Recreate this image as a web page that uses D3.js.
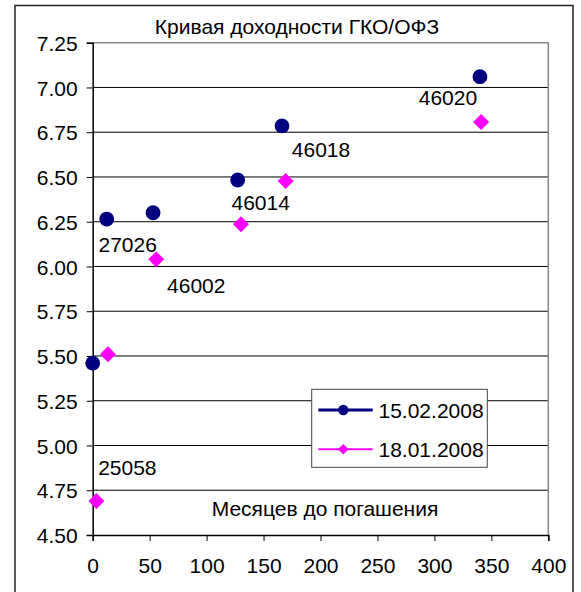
<!DOCTYPE html>
<html><head><meta charset="utf-8">
<script src="https://cdn.jsdelivr.net/npm/d3@7"></script>
<style>body{margin:0;background:#fff}svg{display:block}text{font-family:Arial,"Liberation Sans",sans-serif;fill:#000}</style>
</head><body>
<script>
// ---- data ----
const title = "Кривая доходности ГКО/ОФЗ";
const xTitle = "Месяцев до погашения";
const seriesNames = ["15.02.2008", "18.01.2008"];
const months1 = [0, 12.3, 53, 127.3, 166.2, 340];
const yields1 = [5.46, 6.265, 6.30, 6.483, 6.785, 7.06];
const months2 = [3.2, 13.4, 55.8, 130.2, 169.4, 341];
const yields2 = [4.69, 5.51, 6.04, 6.236, 6.478, 6.807];
const bondLabels = ["27026", "46002", "46014", "46018", "46020", "25058"];
const labelSeries = [0, 1, 0, 0, 0, 1];
const labelIndex = [1, 2, 3, 4, 5, 0];
const yTicks = [4.50, 4.75, 5.00, 5.25, 5.50, 5.75, 6.00, 6.25, 6.50, 6.75, 7.00, 7.25];
const xTicks = [0, 50, 100, 150, 200, 250, 300, 350, 400];

// ---- drawing ----
const W = 581, H = 592;
const svg = d3.select("body").append("svg").attr("width", W).attr("height", H);
const colors = ["#000080", "#FF00FF"];
const L = 92.7, R = 548.3, T = 42.7, B = 535;
const x = d3.scaleLinear().domain([0, 400]).range([L, R]);
const y = d3.scaleLinear().domain([4.5, 7.25]).range([B, T]);
const FS = 21;

// outer border
svg.append("rect").attr("x", 15).attr("y", 5.5).attr("width", 558).attr("height", 600)
  .attr("fill", "none").attr("stroke", "#222").attr("stroke-width", 1.5);

// title
svg.append("text").attr("x", 297).attr("y", 34).attr("text-anchor", "middle")
  .attr("font-size", FS).text(title);

// gridlines
svg.append("g").selectAll("line").data(yTicks.filter(v => v > 4.5 && v < 7.25)).join("line")
  .attr("x1", L).attr("x2", R).attr("y1", d => y(d)).attr("y2", d => y(d))
  .attr("stroke", "#000").attr("stroke-width", 1);

// plot border top/right gray
svg.append("path").attr("d", `M${L},${T}H${R}V${B}`).attr("fill", "none")
  .attr("stroke", "#888").attr("stroke-width", 1.5);

// y axis
const yAxis = svg.append("g").attr("transform", `translate(${L},0)`)
  .call(d3.axisLeft(y).tickValues(yTicks).tickFormat(d3.format(".2f")).tickSize(6).tickPadding(9));
yAxis.select(".domain").attr("stroke", "#000").attr("stroke-width", 1.5);
yAxis.selectAll("text").attr("font-size", FS).attr("font-family", "Arial, 'Liberation Sans', sans-serif").attr("dy", "0.36em");

// x axis
const xAxis = svg.append("g").attr("transform", `translate(0,${B})`)
  .call(d3.axisBottom(x).tickValues(xTicks).tickFormat(d3.format("d")).tickSize(6).tickPadding(17));
xAxis.select(".domain").attr("stroke", "#000").attr("stroke-width", 1.5);
xAxis.selectAll("text").attr("font-size", FS).attr("font-family", "Arial, 'Liberation Sans', sans-serif");

// x axis title
svg.append("text").attr("x", 325).attr("y", 516).attr("text-anchor", "middle")
  .attr("font-size", FS).text(xTitle);

// points
const pts1 = months1.map((m, i) => ({m, v: yields1[i]}));
const pts2 = months2.map((m, i) => ({m, v: yields2[i]}));
const diamond = d3.symbol(d3.symbolSquare, 128);
svg.append("g").selectAll("circle").data(pts1).join("circle")
  .attr("cx", d => x(d.m)).attr("cy", d => y(d.v)).attr("r", 7.4).attr("fill", colors[0]);
svg.append("g").selectAll("path").data(pts2).join("path")
  .attr("d", diamond).attr("transform", d => `translate(${x(d.m)},${y(d.v)}) rotate(45)`)
  .attr("fill", colors[1]);

// labels (offsets from anchor point)
const offs = [[21, 25], [40, 26], [23, 22], [39, 24], [-32, 21], [31, -33]];
const series = [pts1, pts2];
svg.append("g").selectAll("text").data(bondLabels).join("text")
  .attr("x", (d, i) => x(series[labelSeries[i]][labelIndex[i]].m) + offs[i][0])
  .attr("y", (d, i) => y(series[labelSeries[i]][labelIndex[i]].v) + offs[i][1] + 7.5)
  .attr("text-anchor", "middle").attr("font-size", FS).text(d => d);

// legend
const lg = svg.append("g");
lg.append("rect").attr("x", 311.7).attr("y", 389.3).attr("width", 175.6).attr("height", 78)
  .attr("fill", "#fff").attr("stroke", "#444").attr("stroke-width", 1);
const ly = [410, 449.3];
seriesNames.forEach((name, i) => {
  lg.append("line").attr("x1", 318.3).attr("x2", 372.7).attr("y1", ly[i]).attr("y2", ly[i])
    .attr("stroke", colors[i]).attr("stroke-width", i === 0 ? 3 : 2);
  if (i === 0) lg.append("circle").attr("cx", 343.3).attr("cy", ly[i]).attr("r", 5.2).attr("fill", colors[i]);
  else lg.append("path").attr("d", d3.symbol(d3.symbolSquare, 56))
    .attr("transform", `translate(343.3,${ly[i]}) rotate(45)`).attr("fill", colors[i]);
  lg.append("text").attr("x", 378.5).attr("y", ly[i] + 7.5).attr("font-size", FS).text(name);
});
</script>
</body></html>
